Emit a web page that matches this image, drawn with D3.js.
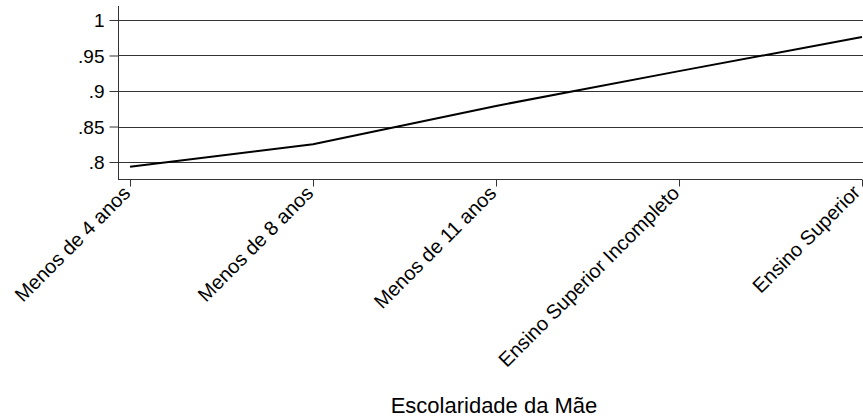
<!DOCTYPE html>
<html>
<head>
<meta charset="utf-8">
<script src="https://cdn.jsdelivr.net/npm/d3@7"></script>
<style>
  html, body { margin: 0; padding: 0; background: #fff; }
  svg { display: block; }
  text { font-family: "Liberation Sans", Arial, sans-serif; fill: #000; }
</style>
</head>
<body>
<svg id="chart" width="863" height="417"></svg>
<script>
const categories = ["Menos de 4 anos", "Menos de 8 anos", "Menos de 11 anos", "Ensino Superior Incompleto", "Ensino Superior"];
const values = [0.7934, 0.825, 0.879, 0.928, 0.976];
const yTicks = [0.8, 0.85, 0.9, 0.95, 1];
const yTickLabels = [".8", ".85", ".9", ".95", "1"];
const xTitle = "Escolaridade da Mãe";

const svg = d3.select("#chart");
const axisX = 118, axisBottom = 179, axisTop = 6, rightEdge = 863;

const x = d3.scalePoint().domain(categories).range([130, 862]);
const y = d3.scaleLinear().domain([0.7761, 1.0197]).range([axisBottom, axisTop]);

// gridlines
svg.append("g").selectAll("line").data(yTicks).join("line")
  .attr("x1", axisX).attr("x2", rightEdge)
  .attr("y1", d => Math.round(y(d)) + 0.5).attr("y2", d => Math.round(y(d)) + 0.5)
  .attr("stroke", "#333").attr("stroke-width", 1.2);

// y axis
const yAxis = d3.axisLeft(y).tickValues(yTicks)
  .tickFormat((d, i) => yTickLabels[i]).tickSize(9).tickPadding(5).tickSizeOuter(0);
const gy = svg.append("g").attr("transform", `translate(${axisX + 0.5},0)`).call(yAxis);
gy.select(".domain").attr("stroke", "#333").attr("d", `M0,${axisTop}V${axisBottom}`);
gy.selectAll(".tick line").attr("stroke", "#333");
gy.selectAll(".tick text").style("font-size", "19px").attr("dy", "0.36em");

// x axis
const xAxis = d3.axisBottom(x).tickSize(7).tickSizeOuter(0).tickFormat(d => d);
const gx = svg.append("g").attr("transform", `translate(0,${axisBottom + 0.5})`).call(xAxis);
gx.select(".domain").attr("stroke", "#333").attr("d", `M${axisX},0H${862}`);
gx.selectAll(".tick line").attr("stroke", "#333");
gx.selectAll(".tick text")
  .style("font-size", "20px")
  .attr("text-anchor", "end")
  .attr("y", 0).attr("dy", 0)
  .attr("transform", (d, i) => i === categories.length - 1 ? "translate(-1,14) rotate(-45)" : "translate(1,15) rotate(-45)");

// line
const line = d3.line().x((d, i) => x(categories[i])).y(d => y(d));
svg.append("path").datum(values)
  .attr("d", line)
  .attr("fill", "none").attr("stroke", "#000").attr("stroke-width", 2);

// title
svg.append("text").attr("x", 494).attr("y", 413)
  .attr("text-anchor", "middle").style("font-size", "22px").text(xTitle);
</script>
</body>
</html>
